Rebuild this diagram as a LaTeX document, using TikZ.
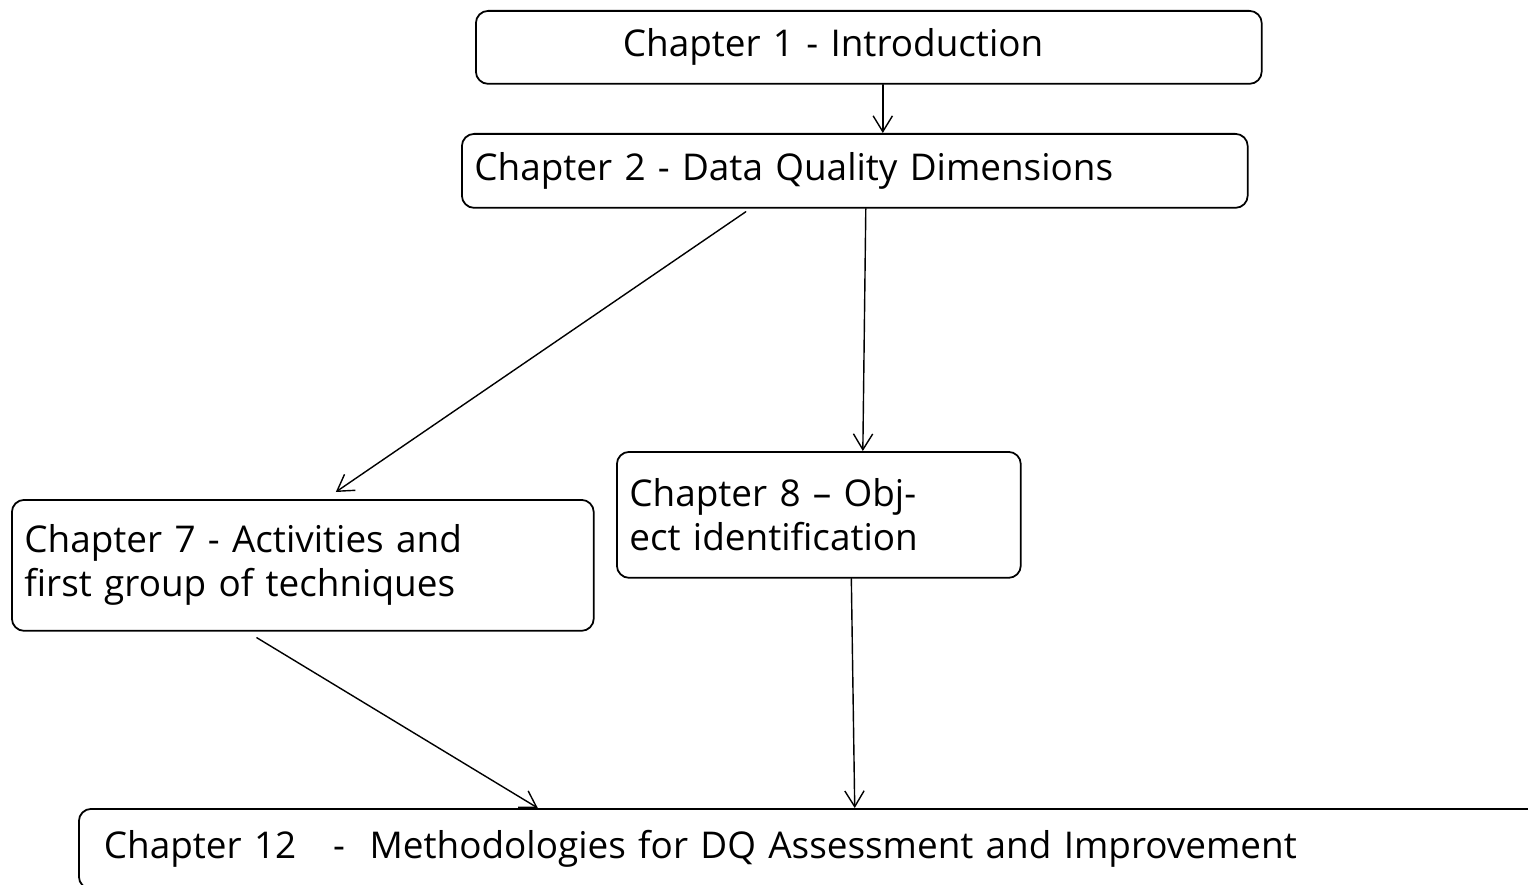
\documentclass[tikz,border=0pt]{standalone}
\usepackage{fontspec}
\setmainfont{Open Sans}
\usetikzlibrary{arrows.meta}
\begin{document}
\begin{tikzpicture}[x=0.02cm,y=-0.02cm,>={Straight Barb[length=9pt,width=11pt]}, font=\fontsize{21}{25}\selectfont, line join=round, line cap=round,
	chbox/.style={draw, line width=1pt, rounded corners=7pt, anchor=north west, align=left, inner xsep=0.25cm, inner ysep=0pt},
	link/.style={->, line width=0.8pt}]
		\clip (0,0) rectangle (1528,885);
		%	\draw[color=gray!50,dashed] (0,0) grid[step=100] (1528,885);
		\node[chbox, text width=15.22cm, minimum height=1.46cm] (ch1) at (475,10) {\hspace*{2.69cm}Chapter 1 - Introduction};
		\node[chbox, text width=15.22cm, minimum height=1.48cm] (ch2) at (461,133) {Chapter 2 - Data Quality Dimensions};
		\node[chbox, text width=11.14cm, minimum height=2.62cm] (ch7) at (11,499) {Chapter 7 - Activities and\\first group of techniques};
		\node[chbox, text width=7.58cm, minimum height=2.52cm] (ch8) at (616,451) {Chapter 8 -- Obj-\\ect identification};
		\node[chbox, text width=28.9cm, minimum height=1.6cm] (ch12) at (78,808) {\hspace*{0.25cm}Chapter 12\ \ \ -\ \ Methodologies for DQ Assessment and Improvement};
		\draw[link] ([xshift=0.28cm]ch1.south) -- ([xshift=0.28cm]ch1.south |- ch2.north);
		\draw[link] ([xshift=-2.18cm,yshift=-0.06cm]ch2.south) -- ([xshift=0.66cm,yshift=0.14cm]ch7.north);
		\draw[link] ([xshift=0.22cm]ch2.south) -- ([xshift=0.88cm]ch8.north);
		\draw[link] ([xshift=-0.92cm,yshift=-0.12cm]ch7.south) -- ([xshift=-5.52cm]ch12.north);
		\draw[link] ([xshift=0.65cm]ch8.south) -- ([xshift=0.82cm]ch12.north);
\end{tikzpicture}
\end{document}
